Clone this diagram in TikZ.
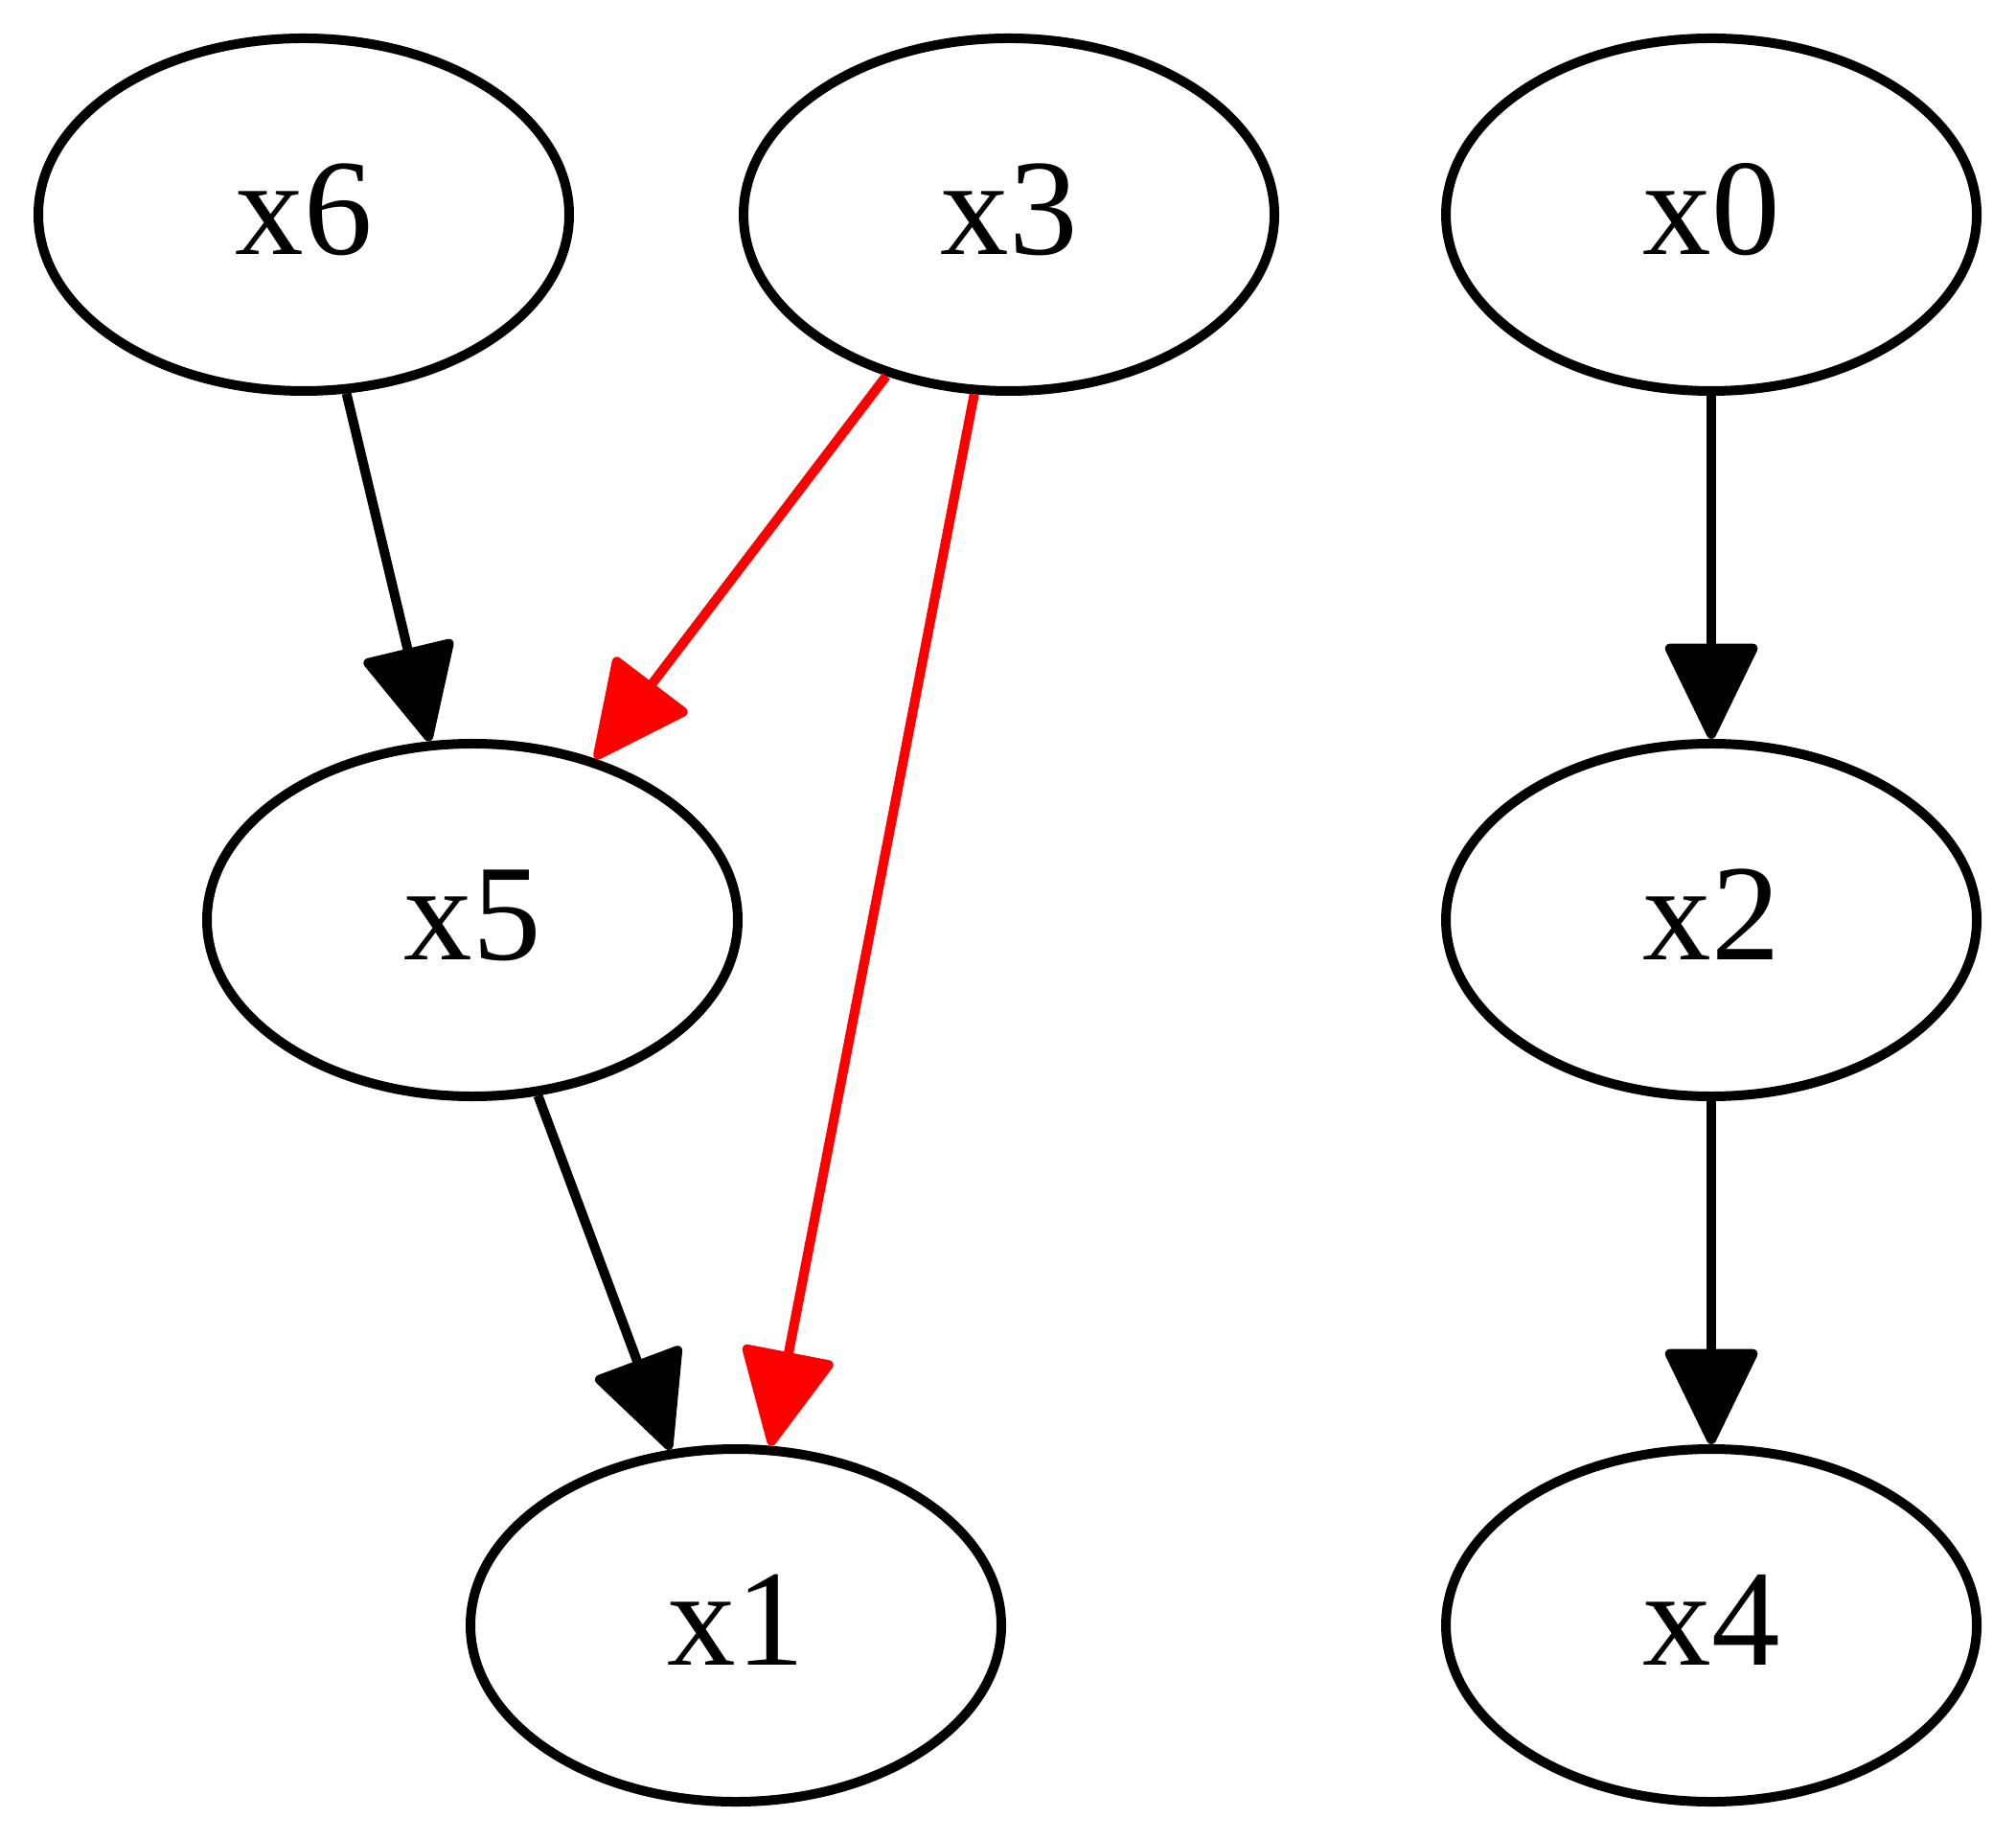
\documentclass[tikz,border=0pt]{standalone}
\usepackage{fontspec}
\setmainfont{Liberation Serif}
\usetikzlibrary{arrows.meta,shapes.geometric}
\tikzset{
  var/.style={draw=black, line width=1pt, ellipse, minimum width=55.4pt, minimum height=36.8pt, inner sep=0pt, text height=9.7pt, text depth=1.4pt, font=\fontsize{14.3pt}{16pt}\selectfont},
  edge/.style={draw=black, line width=1pt, -{Triangle[length=10.6pt,width=10pt,round]}},
  redge/.style={edge, draw=red, fill=red}
}
\begin{document}
\begin{tikzpicture}[x=1pt,y=1pt]
\useasboundingbox (0,0) rectangle (210.4,-192);
\node[var] (x6) at (31.7,-22.4) {x6};
\node[var] (x3) at (105.3,-22.4) {x3};
\node[var] (x0) at (178.6,-22.4) {x0};
\node[var] (x5) at (49.3,-96.0) {x5};
\node[var] (x2) at (178.6,-96.0) {x2};
\node[var] (x1) at (76.8,-169.6) {x1};
\node[var] (x4) at (178.6,-169.6) {x4};
\draw[edge] (x6) -- (x5);
\draw[redge] (x3) -- (x5);
\draw[redge] (x3) -- (x1);
\draw[edge] (x5) -- (x1);
\draw[edge] (x0) -- (x2);
\draw[edge] (x2) -- (x4);
\end{tikzpicture}
\end{document}
